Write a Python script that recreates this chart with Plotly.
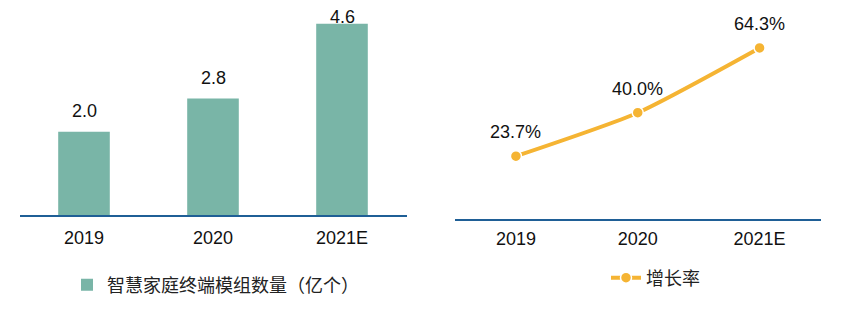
import plotly.graph_objects as go

categories = ["2019", "2020", "2021E"]
module_counts = [2.0, 2.8, 4.6]
growth_rates = [23.7, 40.0, 64.3]
count_labels = ["2.0", "2.8", "4.6"]
growth_labels = ["23.7%", "40.0%", "64.3%"]

W, H = 850, 309
TEAL = "#79b5a7"
ORANGE = "#f5b433"
AXIS_BLUE = "#1f5f96"
FONT = "Liberation Sans, Arial, Noto Sans CJK SC, sans-serif"

positions = list(range(len(categories)))

left_ymax = 5.17
right_ymax = 82.3
left_px_per_unit = (H * (1 - 0.3042)) / left_ymax

fig = go.Figure()

fig.add_trace(go.Bar(
    x=positions, y=module_counts, name="智慧家庭终端模组数量（亿个）",
    marker=dict(color=TEAL, line=dict(width=0)), width=0.4,
    xaxis="x", yaxis="y", legend="legend", hoverinfo="skip",
))

fig.add_trace(go.Scatter(
    x=positions, y=growth_rates, name="增长率",
    mode="lines+markers",
    line=dict(color=ORANGE, width=4, shape="spline", smoothing=0.6),
    marker=dict(color=ORANGE, size=11, line=dict(color="white", width=1.5)),
    xaxis="x2", yaxis="y2", legend="legend2", hoverinfo="skip",
))

annotations = []
for p, v, t in zip(positions, module_counts, count_labels):
    shift = min(21, (left_ymax - v) * left_px_per_unit - 17)
    annotations.append(dict(x=p, y=v, xref="x", yref="y", text=t, showarrow=False,
                            yanchor="middle", yshift=shift,
                            font=dict(size=18, color="#111111", family=FONT)))
for p, v, t in zip(positions, growth_rates, growth_labels):
    annotations.append(dict(x=p, y=v, xref="x2", yref="y2", text=t, showarrow=False,
                            yanchor="middle", yshift=24,
                            font=dict(size=18, color="#111111", family=FONT)))

def xaxis_style(domain, anchor, standoff):
    return dict(domain=domain, anchor=anchor, type="linear",
                range=[-0.5, len(categories) - 0.5],
                tickmode="array", tickvals=positions, ticktext=categories,
                showgrid=False, zeroline=False, ticks="", showline=True,
                linecolor=AXIS_BLUE, linewidth=2,
                tickfont=dict(size=18, color="#111111", family=FONT),
                ticklabelstandoff=standoff,
                fixedrange=True)

fig.update_layout(
    width=W, height=H,
    margin=dict(l=0, r=0, t=0, b=0),
    paper_bgcolor="white", plot_bgcolor="white",
    font=dict(family=FONT, color="#111111"),
    xaxis=xaxis_style([19.5 / W, 406.5 / W], "y", 5),
    yaxis=dict(domain=[0.3042, 1.0], range=[0, left_ymax], visible=False, fixedrange=True),
    xaxis2=xaxis_style([455 / W, 820.5 / W], "y2", 2),
    yaxis2=dict(domain=[0.2903, 1.0], range=[0, right_ymax], visible=False, fixedrange=True),
    showlegend=True,
    legend=dict(x=67 / W, y=1 - 285 / H, xanchor="left", yanchor="middle",
                orientation="h", font=dict(size=18, color="#222222", family=FONT),
                bgcolor="rgba(0,0,0,0)"),
    legend2=dict(x=606 / W, y=1 - 278 / H, xanchor="left", yanchor="middle",
                 orientation="h", font=dict(size=18, color="#222222", family=FONT),
                 bgcolor="rgba(0,0,0,0)"),
    annotations=annotations,
)

fig.write_html("out.html", config={"displayModeBar": False})
